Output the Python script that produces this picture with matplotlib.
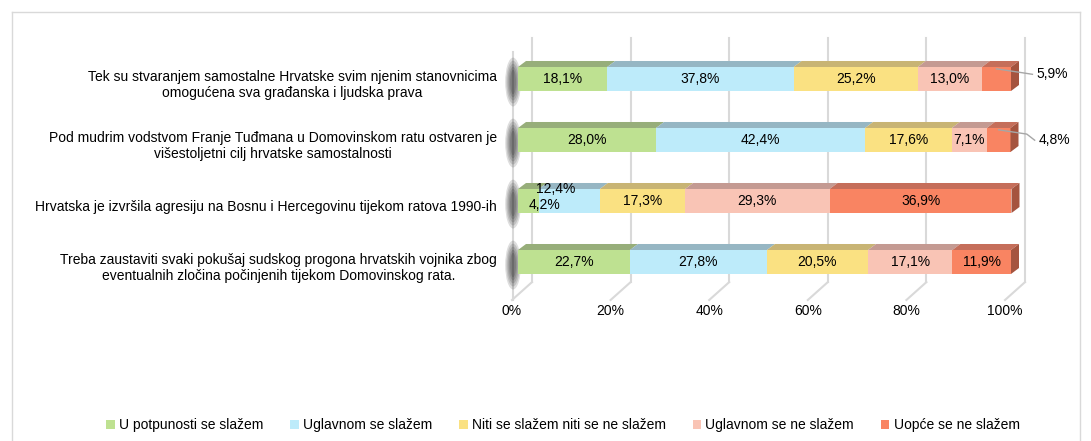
import matplotlib.pyplot as plt
from matplotlib.patches import Polygon, Ellipse
import matplotlib

plt.rcParams['font.family'] = ['Liberation Sans', 'DejaVu Sans']

questions = [
    "Tek su stvaranjem samostalne Hrvatske svim njenim stanovnicima\nomogućena sva građanska i ljudska prava",
    "Pod mudrim vodstvom Franje Tuđmana u Domovinskom ratu ostvaren je\nvišestoljetni cilj hrvatske samostalnosti",
    "Hrvatska je izvršila agresiju na Bosnu i Hercegovinu tijekom ratova 1990-ih",
    "Treba zaustaviti svaki pokušaj sudskog progona hrvatskih vojnika zbog\neventualnih zločina počinjenih tijekom Domovinskog rata.",
]
answers = ["U potpunosti se slažem", "Uglavnom se slažem", "Niti se slažem niti se ne slažem",
           "Uglavnom se ne slažem", "Uopće se ne slažem"]
u_potpunosti = [18.1, 28.0, 4.2, 22.7]
uglavnom_da = [37.8, 42.4, 12.4, 27.8]
niti = [25.2, 17.6, 17.3, 20.5]
uglavnom_ne = [13.0, 7.1, 29.3, 17.1]
uopce_ne = [5.9, 4.8, 36.9, 11.9]
ticks = [0, 20, 40, 60, 80, 100]

series = [u_potpunosti, uglavnom_da, niti, uglavnom_ne, uopce_ne]
front = ['#BEE191', '#BDEBFA', '#FAE182', '#F9C4B5', '#F98462']
top = ['#97AE7A', '#96B6C3', '#C8B474', '#C49A92', '#C56E5A']
side = '#A5543F'
fs = 10

fig = plt.figure(figsize=(10.91, 4.41), dpi=100)
# chart border
for xs, ys in [([12, 12], [441, 12]), ([12, 1080], [12, 12]), ([1080, 1080], [12, 441])]:
    fig.add_artist(plt.Line2D([x / 1091 for x in xs], [1 - y / 441 for y in ys],
                              color='#D9D9D9', lw=1))

ax = fig.add_axes([518 / 1091, (441 - 300) / 441, 493 / 1091, 262 / 441])
ax.set_xlim(0, 100)
ax.set_ylim(3.623, -0.672)
ax.axis('off')

px_x = 4.93   # pixels per percent
px_y = 61.0   # pixels per category
h = 24 / px_y
dx = 8 / px_x
dy = 6 / px_y
back = 14 / px_x
floor_front = -6 / px_x

# back wall gridlines and floor
for t in ticks:
    ax.plot([t + back, t + back], [-0.672, 3.33], color='#D9D9D9', lw=1.5, zorder=1, clip_on=False)
    ax.plot([t + back, t + floor_front], [3.33, 3.623], color='#D9D9D9', lw=1.5, zorder=1, clip_on=False)
    ax.text(t + floor_front, 3.8, f"{t}%", ha='center', va='center', fontsize=fs)
# left wall
ax.plot([-1, -1], [-0.45, 3.623], color='#D9D9D9', lw=1.5, zorder=1, clip_on=False)

y = list(range(len(questions)))
for i in y:
    for k in range(5):
        ax.add_patch(Ellipse((-1.0, i + 0.05), 3.2 - k * 0.5, 0.8 - k * 0.1,
                             color='black', alpha=0.13, lw=0, zorder=2, clip_on=False))
    ax.text(-4.26, i + 0.1, questions[i], ha='right', va='center', multialignment='center', fontsize=fs)

left = [0.0] * len(y)
for s, vals in enumerate(series):
    ax.barh(y, vals, left=left, height=h, color=front[s], zorder=3, label=answers[s])
    for i, v in enumerate(vals):
        l = left[i]
        yt = i - h / 2
        ax.add_patch(Polygon([(l, yt), (l + v, yt), (l + v + dx, yt - dy), (l + dx, yt - dy)],
                             closed=True, color=top[s], lw=0, zorder=3, clip_on=False))
        if s == len(series) - 1:
            r = l + v
            ax.add_patch(Polygon([(r, yt), (r + dx, yt - dy), (r + dx, yt - dy + h), (r, yt + h)],
                                 closed=True, color=side, lw=0, zorder=3, clip_on=False))
        cx = l + v / 2
        lab = f"{v:.1f}%".replace('.', ',')
        if v < 6.5 and s == len(series) - 1:
            ye = yt + 0.1 + (0.02 if i == 0 else 0.1)
            ax.plot([cx, cx + 5.7, cx + 7.3], [yt + 0.03, yt + 0.1, ye],
                    color='#A6A6A6', lw=1, zorder=4, clip_on=False)
            ax.text(cx + 8.2, ye, lab, ha='left', va='center', fontsize=fs)
        elif v < 6.5:
            ax.text(cx + 3.2, i + 0.07, lab, ha='center', va='center', fontsize=fs, zorder=5)
        elif s == 1 and vals[i] < 13:
            ax.text(cx - 2.7, i - 0.2, lab, ha='center', va='center', fontsize=fs, zorder=5)
        else:
            ax.text(cx, i, lab, ha='center', va='center', fontsize=fs, zorder=5)
        left[i] += v

handles, labels = ax.get_legend_handles_labels()
fig.legend(handles, labels, loc='center', bbox_to_anchor=(563 / 1091, 1 - 425 / 441), ncol=5,
           frameon=False, fontsize=fs, handlelength=0.6, handleheight=0.6, handletextpad=0.3,
           columnspacing=1.95)

plt.savefig('out.png', dpi=100)
